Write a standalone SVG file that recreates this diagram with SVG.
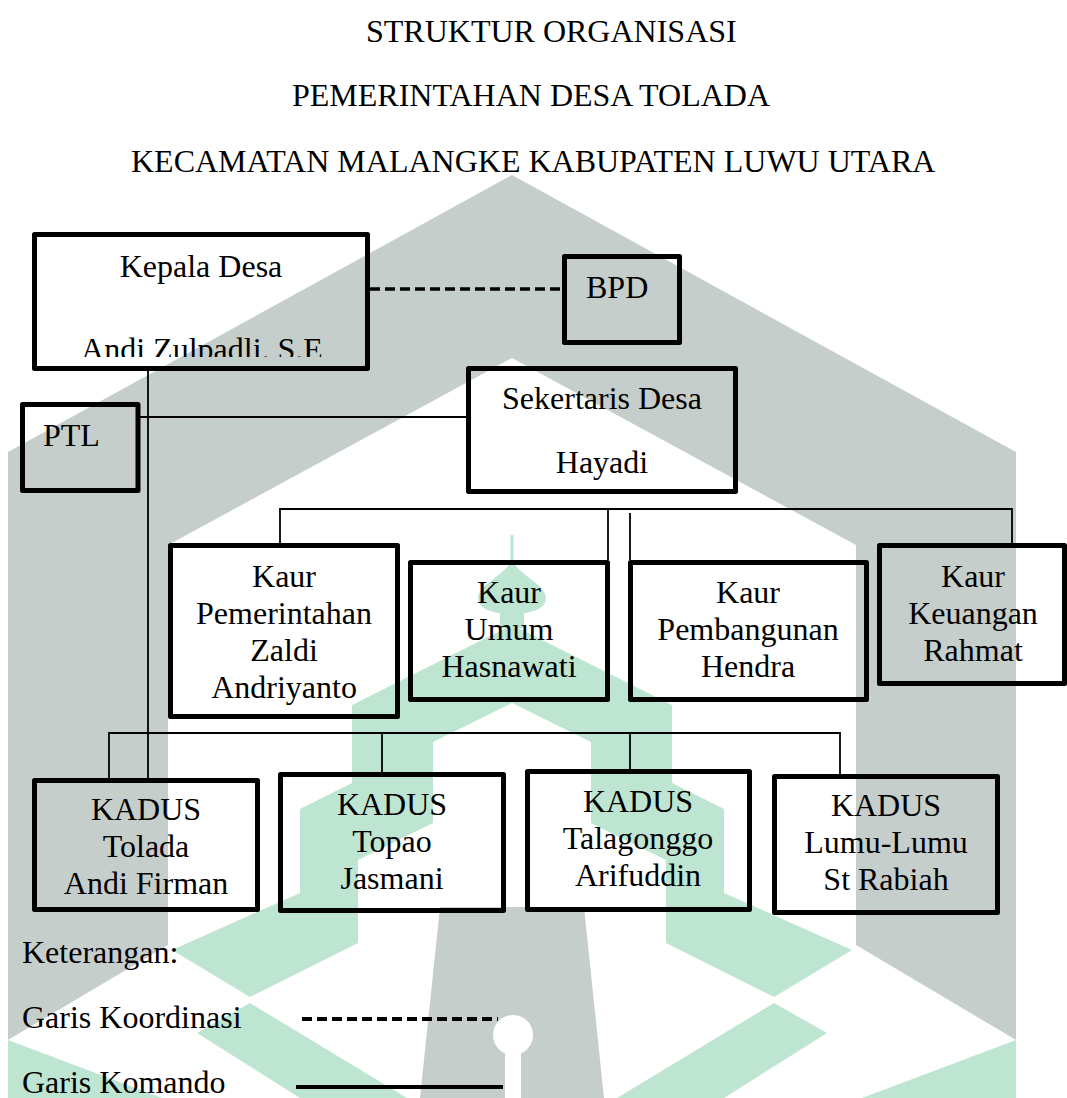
<svg xmlns="http://www.w3.org/2000/svg" width="1067" height="1098" viewBox="0 0 1067 1098">
<style>
.box{fill:none;stroke:#000;stroke-width:5;stroke-linejoin:round}
.t{font-family:"Liberation Serif","Times New Roman",serif;font-size:32px;fill:#000}
.c{text-anchor:middle}
.ln{stroke:#000;stroke-width:1.8;fill:none}
.dash{stroke:#000;stroke-width:3.5;stroke-dasharray:10 5;fill:none}
.wg{fill:#c6cecb}
.wn{fill:#bee5d2}
</style>
<defs>
<clipPath id="kclip"><rect x="37" y="237" width="328" height="120"/></clipPath>
<g id="halfGreen">
<polygon points="512,625 352,705 352,783 300,809 300,893 172,950 250,997 358,943 358,860 433,823 433,742 512,703"/>
<polygon points="250,1003 407,1098 300,1098 197,1033"/>
<polygon points="8,1040 162,1098 8,1098"/>
</g>
</defs>
<rect width="1067" height="1098" fill="#fff"/>
<g id="watermark">
<polygon class="wg" points="512,175 1016,452 1016,1040 856,945 856,545 512,358 168,545 168,945 8,1040 8,452"/>
<polygon class="wg" points="440,907 584,907 604,1098 420,1098"/>
<circle cx="513" cy="1035" r="20" fill="#fff"/>
<rect x="505" y="1035" width="16" height="63" fill="#fff"/>
<g class="wn">
<use href="#halfGreen"/>
<use href="#halfGreen" transform="translate(1024,0) scale(-1,1)"/>
<rect x="510.5" y="535" width="3" height="30"/>
<path d="M512,560 C505,575 478,585 478,598 C478,610 495,614 512,614 C529,614 546,610 546,598 C546,585 519,575 512,560 Z"/>
<rect x="500" y="610" width="24" height="18"/>
</g>
</g>
<g id="title">
<text class="t" x="366" y="42">STRUKTUR ORGANISASI</text>
<text class="t" x="292" y="106">PEMERINTAHAN DESA TOLADA</text>
<text class="t" x="131" y="172">KECAMATAN MALANGKE KABUPATEN LUWU UTARA</text>
</g>
<g id="connectors">
<line class="dash" x1="370" y1="289" x2="562" y2="289"/>
<line class="ln" x1="148" y1="371" x2="148" y2="778"/>
<line class="ln" x1="140" y1="417" x2="466" y2="417"/>
<polyline class="ln" points="280,543 280,509 1012,509 1012,543"/>
<line class="ln" x1="608" y1="510" x2="608" y2="560"/>
<line class="ln" x1="630" y1="513" x2="630" y2="560"/>
<polyline class="ln" points="109,778 109,733 840,733 840,774"/>
<line class="ln" x1="382" y1="733" x2="382" y2="772"/>
<line class="ln" x1="630" y1="733" x2="630" y2="770"/>
</g>
<g id="kepala-desa">
<rect class="box" x="34.5" y="234.5" width="333" height="134"/>
<text class="t c" x="201" y="277">Kepala Desa</text>
<text class="t c" x="202" y="360" clip-path="url(#kclip)">Andi Zulpadli. S.E</text>
</g>
<g id="bpd">
<rect class="box" x="564.5" y="256.5" width="115" height="86"/>
<text class="t" x="586" y="298">BPD</text>
</g>
<g id="ptl">
<rect class="box" x="22.5" y="404.5" width="115.5" height="86"/>
<text class="t" x="43" y="446">PTL</text>
</g>
<g id="sekertaris-desa">
<rect class="box" x="468.5" y="368.5" width="267" height="123"/>
<text class="t c" x="602" y="409">Sekertaris Desa</text>
<text class="t c" x="602" y="473">Hayadi</text>
</g>
<g id="kaur-pemerintahan">
<rect class="box" x="170.5" y="545.5" width="227" height="171"/>
<text class="t c" x="284" y="587">Kaur</text>
<text class="t c" x="284" y="624">Pemerintahan</text>
<text class="t c" x="284" y="661">Zaldi</text>
<text class="t c" x="284" y="698">Andriyanto</text>
</g>
<g id="kaur-umum">
<rect class="box" x="410.5" y="562.5" width="197" height="137"/>
<text class="t c" x="509" y="603">Kaur</text>
<text class="t c" x="509" y="640">Umum</text>
<text class="t c" x="509" y="677">Hasnawati</text>
</g>
<g id="kaur-pembangunan">
<rect class="box" x="630.5" y="562.5" width="236" height="137"/>
<text class="t c" x="748" y="603">Kaur</text>
<text class="t c" x="748" y="640">Pembangunan</text>
<text class="t c" x="748" y="677">Hendra</text>
</g>
<g id="kaur-keuangan">
<rect class="box" x="879.5" y="545.5" width="185" height="138"/>
<text class="t c" x="973" y="587">Kaur</text>
<text class="t c" x="973" y="624">Keuangan</text>
<text class="t c" x="973" y="661">Rahmat</text>
</g>
<g id="kadus-tolada">
<rect class="box" x="34.5" y="780.5" width="223" height="129"/>
<text class="t c" x="146" y="820">KADUS</text>
<text class="t c" x="146" y="857">Tolada</text>
<text class="t c" x="146" y="894">Andi Firman</text>
</g>
<g id="kadus-topao">
<rect class="box" x="280.5" y="774.5" width="223" height="136"/>
<text class="t c" x="392" y="815">KADUS</text>
<text class="t c" x="392" y="852">Topao</text>
<text class="t c" x="392" y="889">Jasmani</text>
</g>
<g id="kadus-talagonggo">
<rect class="box" x="527.5" y="771.5" width="222" height="138"/>
<text class="t c" x="638" y="812">KADUS</text>
<text class="t c" x="638" y="849">Talagonggo</text>
<text class="t c" x="638" y="886">Arifuddin</text>
</g>
<g id="kadus-lumu-lumu">
<rect class="box" x="774.5" y="776.5" width="223" height="136"/>
<text class="t c" x="886" y="816">KADUS</text>
<text class="t c" x="886" y="853">Lumu-Lumu</text>
<text class="t c" x="886" y="890">St Rabiah</text>
</g>
<g id="legend">
<text class="t" x="22" y="963">Keterangan:</text>
<text class="t" x="22" y="1028">Garis Koordinasi</text>
<text class="t" x="22" y="1093">Garis Komando</text>
<line stroke="#000" stroke-width="4" stroke-dasharray="10 5" x1="302" y1="1019" x2="498" y2="1019"/>
<line stroke="#000" stroke-width="4" x1="296" y1="1087" x2="503" y2="1087"/>
</g>
</svg>
